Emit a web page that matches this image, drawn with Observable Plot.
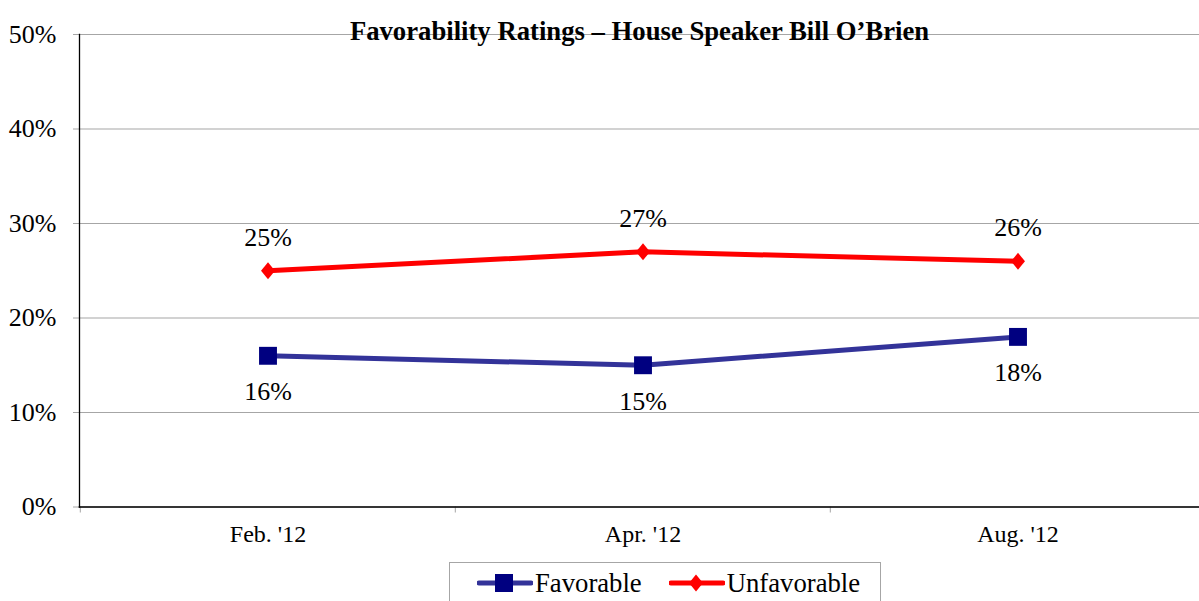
<!DOCTYPE html>
<html>
<head>
<meta charset="utf-8">
<script src="https://cdn.jsdelivr.net/npm/d3@7"></script>
<script src="https://cdn.jsdelivr.net/npm/@observablehq/plot@0.6"></script>
<style>
  html, body { margin: 0; padding: 0; background: #fff; }
  body { font-family: "Liberation Serif", "Times New Roman", serif; }
  #chart { position: relative; width: 1199px; height: 601px; overflow: hidden; }
  #legend {
    position: absolute; left: 449px; top: 562px; width: 432px; height: 42px;
    border: 1px solid #a6a6a6; box-sizing: border-box; background: #fff;
    display: flex; align-items: center; padding-left: 27px;
    font-size: 26.7px; color: #000; font-family: "Liberation Serif", "Times New Roman", serif;
  }
  .item { display: flex; align-items: center; }
  .item svg { display: block; margin-right: 2px; }
</style>
</head>
<body>
<div id="chart"></div>
<script>
const months = ["Feb. '12", "Apr. '12", "Aug. '12"];
const favorable = [16, 15, 18];
const unfavorable = [25, 27, 26];
const yTicks = [0, 10, 20, 30, 40, 50];
const seriesNames = ["Favorable", "Unfavorable"];
const seriesColors = { Favorable: { line: "#333399", marker: "#000080" }, Unfavorable: { line: "#ff0000", marker: "#ff0000" } };
const title = "Favorability Ratings – House Speaker Bill O’Brien";

const favData = months.map((m, i) => ({ month: m, value: favorable[i] }));
const unfavData = months.map((m, i) => ({ month: m, value: unfavorable[i] }));

const diamond = {
  draw(ctx, size) {
    const r = Math.sqrt(size / Math.PI);
    const w = r * 0.82;
    ctx.moveTo(0, -r); ctx.lineTo(w, 0); ctx.lineTo(0, r); ctx.lineTo(-w, 0); ctx.closePath();
  }
};

const serif = "'Liberation Serif', 'Times New Roman', serif";

const chart = Plot.plot({
  width: 1199, height: 550,
  marginLeft: 79, marginRight: 0, marginTop: 34, marginBottom: 43.5,
  style: { fontFamily: serif, background: "white", color: "black", overflow: "visible" },
  x: { type: "band", domain: months, range: [79, 1205], padding: 0, label: null },
  y: { domain: [0, 50], label: null },
  marks: [
    Plot.gridY(yTicks, { stroke: "#a6a6a6", strokeOpacity: 1, strokeWidth: 1.2 }),
    Plot.axisY(yTicks, { tickSize: 6, tickPadding: 17, stroke: "#a6a6a6", tickFormat: d => d + "%", fontSize: 26, fontFamily: serif, label: null }),
    Plot.axisX({ tickSize: 6, stroke: "#a6a6a6", dx: -187.7, tickFormat: () => "", label: null }),
    Plot.axisX({ tickSize: 0, tickPadding: 18, fontSize: 24, fontFamily: serif, label: null }),
    Plot.frame({ anchor: "left", stroke: "black", strokeWidth: 1.3 }),
    Plot.frame({ anchor: "bottom", stroke: "black", strokeWidth: 1.6 }),
    Plot.line(unfavData, { x: "month", y: "value", stroke: seriesColors.Unfavorable.line, strokeWidth: 5 }),
    Plot.dot(unfavData, { x: "month", y: "value", symbol: diamond, r: 8.5, fill: seriesColors.Unfavorable.marker, stroke: "none" }),
    Plot.line(favData, { x: "month", y: "value", stroke: seriesColors.Favorable.line, strokeWidth: 5 }),
    Plot.dot(favData, { x: "month", y: "value", symbol: "square", r: 10.1, fill: seriesColors.Favorable.marker, stroke: "none" }),
    Plot.text(unfavData, { x: "month", y: "value", text: d => d.value + "%", dy: -33.5, fontSize: 26, fontFamily: serif, fill: "black" }),
    Plot.text(favData, { x: "month", y: "value", text: d => d.value + "%", dy: 36, fontSize: 26, fontFamily: serif, fill: "black" }),
    Plot.text([title], { frameAnchor: "top", dy: -13, fontWeight: "bold", fontSize: 26.7, fontFamily: serif, fill: "black" })
  ]
});

const container = document.getElementById("chart");
container.appendChild(chart);

const legend = document.createElement("div");
legend.id = "legend";
seriesNames.forEach((name, i) => {
  const item = document.createElement("div");
  item.className = "item";
  if (i > 0) item.style.marginLeft = "27px";
  const c = seriesColors[name];
  const marker = name === "Favorable"
    ? `<rect x="18" y="3" width="18" height="18" fill="${c.marker}"/>`
    : `<path d="M27,3.5 L34,12 L27,20.5 L20,12 Z" fill="${c.marker}"/>`;
  item.innerHTML = `<svg width="56" height="24"><line x1="2" x2="54" y1="12" y2="12" stroke="${c.line}" stroke-width="5" stroke-linecap="round"/>${marker}</svg><span>${name}</span>`;
  legend.appendChild(item);
});
container.appendChild(legend);
</script>
</body>
</html>
